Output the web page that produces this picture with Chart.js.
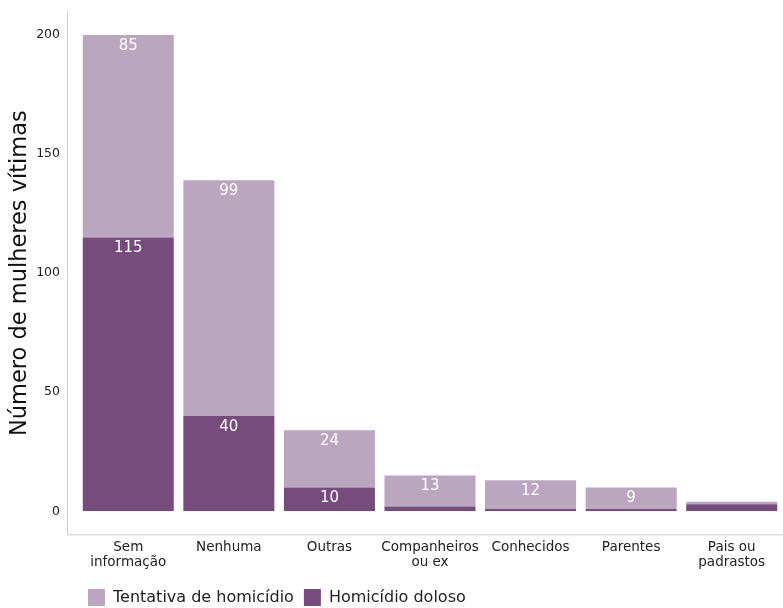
<!DOCTYPE html>
<html>
<head>
<meta charset="utf-8">
<script src="https://cdn.jsdelivr.net/npm/chart.js@4.4.1/dist/chart.umd.min.js"></script>
<style>
  html, body { margin: 0; padding: 0; background: #fff; }
  #wrap { width: 783px; height: 608px; position: relative; }
</style>
</head>
<body>
<div id="wrap"><canvas id="chart"></canvas></div>
<script>
/* ── data ── */
var categories = [['Sem', 'informação'], 'Nenhuma', 'Outras', ['Companheiros', 'ou ex'], 'Conhecidos', 'Parentes', ['Pais ou', 'padrastos']];
var homicidioDoloso = [115, 40, 10, 2, 1, 1, 3];
var tentativaHomicidio = [85, 99, 24, 13, 12, 9, 1];
var yTicks = [0, 50, 100, 150, 200];

var FONT = "'DejaVu Sans', sans-serif";
var LIGHT = '#BAA6BF';
var DARK = '#754C7C';

/* ── axis lines sit a bit outside the plot area ── */
var axisLines = {
  id: 'axisLines',
  afterDraw: function(chart){
    var a = chart.chartArea, ctx = chart.ctx;
    var x0 = a.left - 11, yTop = a.top - 24, yBot = a.bottom + 23;
    ctx.save();
    ctx.strokeStyle = '#cfcfcf';
    ctx.lineWidth = 1;
    ctx.beginPath();
    ctx.moveTo(x0 + 0.5, yTop);
    ctx.lineTo(x0 + 0.5, yBot + 0.5);
    ctx.lineTo(chart.width, yBot + 0.5);
    ctx.stroke();
    ctx.restore();
  }
};

/* ── white value labels inside the segments ── */
var segLabels = {
  id: 'segLabels',
  afterDatasetsDraw: function(chart){
    var ctx = chart.ctx;
    ctx.save();
    ctx.fillStyle = '#ffffff';
    ctx.font = '15px ' + FONT;
    ctx.textAlign = 'center';
    ctx.textBaseline = 'middle';
    chart.data.datasets.forEach(function(ds, di){
      var meta = chart.getDatasetMeta(di);
      meta.data.forEach(function(el, i){
        var v = ds.data[i];
        if(v < 5) return;
        ctx.fillText(String(v), el.x, el.y + 11);
      });
    });
    ctx.restore();
  }
};

new Chart(document.getElementById('chart'), {
  type: 'bar',
  data: {
    labels: categories,
    datasets: [
      { label: 'Homicídio doloso', data: homicidioDoloso, backgroundColor: DARK, barPercentage: 0.905, categoryPercentage: 1 },
      { label: 'Tentativa de homicídio', data: tentativaHomicidio, backgroundColor: LIGHT, barPercentage: 0.905, categoryPercentage: 1 }
    ]
  },
  options: {
    responsive: true,
    maintainAspectRatio: false,
    animation: false,
    layout: { padding: { top: 35, right: 1, left: 0, bottom: -8 } },
    plugins: {
      tooltip: { enabled: false },
      legend: {
        position: 'bottom',
        align: 'start',
        fullSize: false,
        reverse: true,
        labels: {
          boxWidth: 17, boxHeight: 17, padding: 10,
          color: '#222', font: { family: FONT, size: 16 }
        }
      }
    },
    scales: {
      x: {
        stacked: true,
        grid: { display: false, drawTicks: false },
        border: { display: false },
        afterFit: function(s){ s.paddingLeft = 0; s.paddingRight = 0; s.height -= 20; },
        ticks: { color: '#222', padding: 29, maxRotation: 0, autoSkip: false, font: { family: FONT, size: 13.5, lineHeight: 1.1 } }
      },
      y: {
        stacked: true,
        min: 0, max: 200,
        grid: { display: false, drawTicks: false },
        border: { display: false },
        afterBuildTicks: function(s){ s.ticks = yTicks.map(function(v){ return { value: v }; }); },
        afterFit: function(s){ s.width = 78; },
        ticks: { color: '#222', padding: 18, font: { family: FONT, size: 12.5 } },
        title: { display: true, text: 'Número de mulheres vítimas', color: '#111', font: { family: FONT, size: 22.5 }, padding: { top: 7, bottom: 0 } }
      }
    }
  },
  plugins: [axisLines, segLabels]
});
</script>
</body>
</html>
